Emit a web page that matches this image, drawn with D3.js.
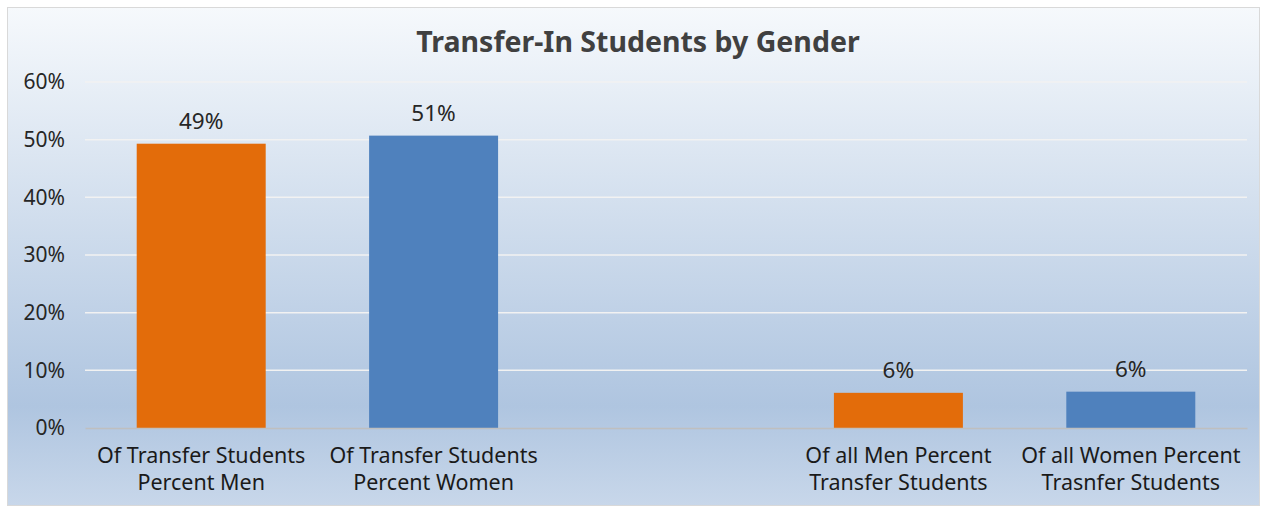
<!DOCTYPE html>
<html>
<head>
<meta charset="utf-8">
<script src="https://cdn.jsdelivr.net/npm/d3@7"></script>
<style>
  body { margin: 0; background: #fff; }
  text { font-family: "Noto Sans", "Open Sans", sans-serif; }
</style>
</head>
<body>
<figure style="margin:0"></figure>
<script>
var vmax = 1267;
var hmax = 508;

// chart data
var categories = [
  ["Of Transfer Students", "Percent Men"],
  ["Of Transfer Students", "Percent Women"],
  ["", ""],
  ["Of all Men Percent", "Transfer Students"],
  ["Of all Women Percent", "Trasnfer Students"]
];
var values = [0.493, 0.507, null, 0.061, 0.063];
var valueLabels = ["49%", "51%", "", "6%", "6%"];
var barColors = ["#e36c0a", "#4f81bd", "none", "#e36c0a", "#4f81bd"];
var yTicks = [0, 0.1, 0.2, 0.3, 0.4, 0.5, 0.6];
var title = "Transfer-In Students by Gender";

var margin = {top: 82, right: 20, bottom: 80, left: 85},
    width = 1247 - margin.left,
    height = 428 - margin.top;

var svg = d3.select("figure").append("svg")
    .attr("width", vmax)
    .attr("height", hmax);

// background gradient
var grad = svg.append("defs").append("linearGradient")
    .attr("id", "bg")
    .attr("x1", 0).attr("y1", 0).attr("x2", 0).attr("y2", 1);
grad.append("stop").attr("offset", "0%").attr("stop-color", "#f6f9fc");
grad.append("stop").attr("offset", "80%").attr("stop-color", "#afc5e0");
grad.append("stop").attr("offset", "100%").attr("stop-color", "#c8d7ea");

svg.append("rect")
    .attr("x", 7.5).attr("y", 7.5)
    .attr("width", 1252).attr("height", 498)
    .attr("fill", "url(#bg)")
    .attr("stroke", "#d9d9d9");

svg.append("text")
    .attr("x", 638).attr("y", 52)
    .attr("text-anchor", "middle")
    .attr("font-size", "28.5px")
    .attr("font-weight", "bold")
    .attr("fill", "#404040")
    .text(title);

var g = svg.append("g")
    .attr("transform", "translate(" + margin.left + "," + margin.top + ")");

var x = d3.scaleBand()
    .domain(d3.range(categories.length))
    .range([0, width])
    .paddingInner(0.445)
    .paddingOuter(0.2225);

var y = d3.scaleLinear()
    .domain([0, 0.6])
    .range([height, 0]);

// gridlines
g.append("g")
    .selectAll("line")
    .data(yTicks.filter(function(d) { return d > 0; }))
    .enter().append("line")
    .attr("x1", 0).attr("x2", width)
    .attr("y1", function(d) { return y(d); })
    .attr("y2", function(d) { return y(d); })
    .attr("stroke", "#f2f2f2")
    .attr("stroke-width", 1.5);

// y axis
var yaxis = d3.axisLeft(y)
    .tickValues(yTicks)
    .tickFormat(d3.format(".0%"))
    .tickSize(0)
    .tickPadding(20);

g.append("g")
    .attr("class", "y axis")
    .call(yaxis)
    .call(function(s) { s.select(".domain").remove(); })
    .selectAll("text")
    .attr("font-size", "21px")
    .attr("fill", "#262626")
    .attr("font-family", "Noto Sans, sans-serif");

// bars (skip empty slot)
var bars = values.map(function(v, i) { return {i: i, v: v}; })
    .filter(function(d) { return d.v !== null; });

g.append("g")
    .selectAll("rect")
    .data(bars)
    .enter().append("rect")
    .attr("x", function(d) { return x(d.i); })
    .attr("width", x.bandwidth())
    .attr("y", function(d) { return y(d.v); })
    .attr("height", function(d) { return height - y(d.v); })
    .attr("fill", function(d) { return barColors[d.i]; });

// value labels
g.append("g")
    .selectAll("text")
    .data(bars)
    .enter().append("text")
    .attr("x", function(d) { return x(d.i) + x.bandwidth() / 2; })
    .attr("y", function(d) { return y(d.v) - 15; })
    .attr("text-anchor", "middle")
    .attr("font-size", "22.5px")
    .attr("fill", "#262626")
    .text(function(d) { return valueLabels[d.i]; });

// x axis baseline
var xaxis = d3.axisBottom(x).tickSize(0).tickFormat("");
var xg = g.append("g")
    .attr("class", "x axis")
    .attr("transform", "translate(0," + height + ")")
    .call(xaxis);
xg.select(".domain").attr("stroke", "#bfbfbf").attr("stroke-width", 1.5);

// category labels
var cat = g.append("g").selectAll("text")
    .data(categories)
    .enter().append("text")
    .attr("text-anchor", "middle")
    .attr("font-size", "21.5px")
    .attr("fill", "#1a1a1a")
    .attr("transform", function(d, i) {
        return "translate(" + (x(i) + x.bandwidth() / 2) + "," + (height + 35) + ")";
    });
cat.append("tspan").attr("x", 0).attr("y", 0).text(function(d) { return d[0]; });
cat.append("tspan").attr("x", 0).attr("y", 27).text(function(d) { return d[1]; });
</script>
</body>
</html>
